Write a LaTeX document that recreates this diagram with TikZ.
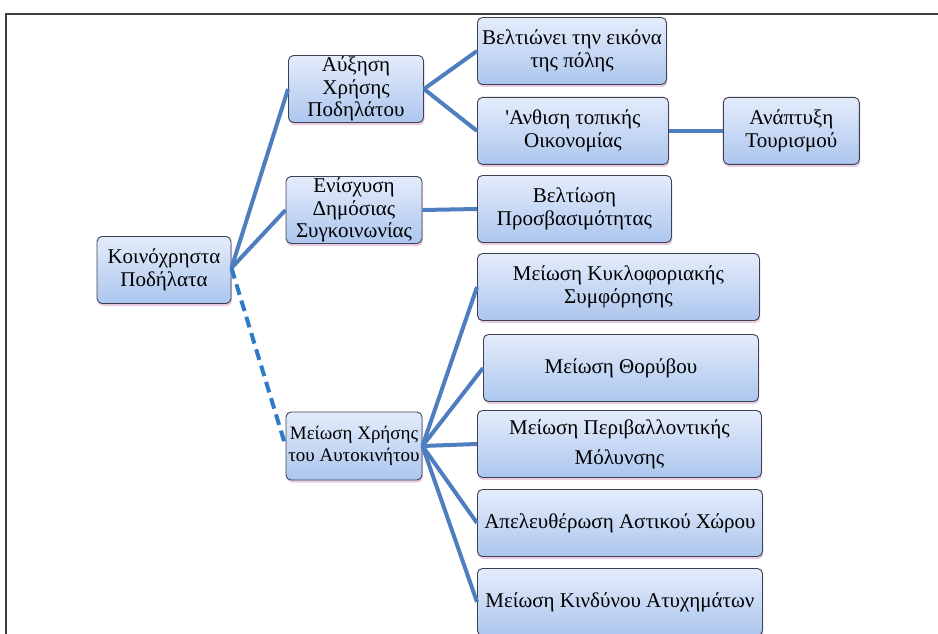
\documentclass[tikz,border=0pt]{standalone}
\usepackage{fontspec}
\setmainfont{Liberation Serif}
\usepackage{tikz}
\usetikzlibrary{shadows}
\usetikzlibrary{positioning}

\definecolor{linkblue}{RGB}{79,126,192}
\definecolor{dashblue}{RGB}{46,124,200}
\definecolor{boxtop}{RGB}{228,236,251}
\definecolor{boxbottom}{RGB}{172,198,238}
\definecolor{boxline}{RGB}{62,64,84}
\definecolor{shadowpink}{RGB}{226,190,214}

\tikzset{
  box/.style={rectangle, rounded corners=5pt, draw=boxline, line width=0.9pt,
    top color=boxtop, bottom color=boxbottom, align=center,
    minimum height=67pt, inner sep=1pt,
    font=\fontsize{21}{22.5}\selectfont,
    drop shadow={shadow xshift=1pt, shadow yshift=-2.5pt, fill=shadowpink, opacity=0.8}},
  link/.style={draw=linkblue, line width=4pt},
  dashlink/.style={draw=dashblue, line width=4pt, dash pattern=on 11pt off 6pt}
}

\begin{document}
\begin{tikzpicture}[x=1pt, y=-1pt]
\useasboundingbox (0,0) rectangle (938,634);
% Frame
\draw[line width=1.4pt, black!75] (938,14) -- (6,14) -- (6,640);

% Define nodes
% Root and first level
\node[box, minimum width=134pt] (bikes) at (164,270) {Κοινόχρηστα\\Ποδήλατα};
\node[box, minimum width=135pt] (cycling) at (356,89) {Αύξηση\\Χρήσης\\Ποδηλάτου};
\node[box, minimum width=136pt] (transit) at (354,210) {Ενίσχυση\\Δημόσιας\\Συγκοινωνίας};
\node[box, minimum width=136pt, minimum height=68pt, font=\fontsize{19}{22}\selectfont] (lesscar) at (354,446) {Μείωση Χρήσης\\του Αυτοκινήτου};

% Second level
\node[box, minimum width=189pt, anchor=west, font=\fontsize{21}{23}\selectfont] (image) at (477,51) {Βελτιώνει την εικόνα\\της πόλης};
\node[box, minimum width=191pt, below=12pt of image.south west, anchor=north west] (economy) {\textquotesingle Ανθιση τοπικής\\Οικονομίας};
\node[box, minimum width=136pt, right=54pt of economy] (tourism) {Ανάπτυξη\\Τουρισμού};
\node[box, minimum width=194pt, anchor=west] (access) at (477,209) {Βελτίωση\\Προσβασιμότητας};

% Effects of less car use
\node[box, minimum width=282pt, anchor=west] (traffic) at (477,287) {Μείωση Κυκλοφοριακής\\Συμφόρησης};
\node[box, minimum width=275pt, anchor=west] (noise) at (483,368) {Μείωση Θορύβου};
\node[box, minimum width=284pt, anchor=west, font=\fontsize{21}{30}\selectfont] (pollution) at (477,444) {Μείωση Περιβαλλοντικής\\Μόλυνσης};
\node[box, minimum width=285pt, anchor=west] (space) at (477,523) {Απελευθέρωση Αστικού Χώρου};
\node[box, minimum width=285pt, anchor=west] (safety) at (477,602) {Μείωση Κινδύνου Ατυχημάτων};

% Edges
\coordinate (hub) at ([yshift=2pt]bikes.east);
\draw[link] (hub) -- (cycling.west);
\draw[link] (hub) -- (transit.west);
\draw[dashlink] (hub) -- (lesscar.west);
\draw[link] (cycling.east) -- (image.west);
\draw[link] (cycling.east) -- (economy.west);
\draw[link] (economy.east) -- (tourism.west);
\draw[link] (transit.east) -- (access.west);
\foreach \n in {traffic, noise, pollution, space, safety}
  \draw[link] (lesscar.east) -- (\n.west);
\end{tikzpicture}
\end{document}
